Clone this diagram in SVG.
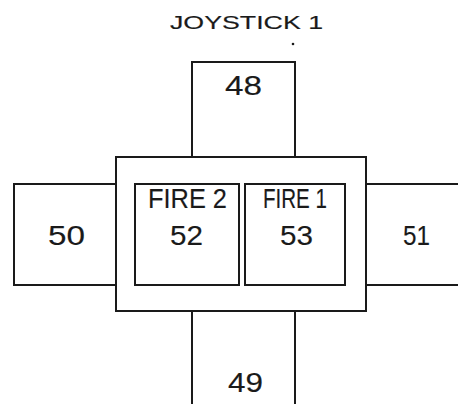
<svg xmlns="http://www.w3.org/2000/svg" width="458" height="404" viewBox="0 0 458 404">
<style>
.b{fill:none;stroke:#1a1a1a;stroke-width:2}
.t{font-family:"Liberation Sans",Arial,sans-serif;fill:#1a1a1a;text-anchor:middle;stroke:#1a1a1a;stroke-width:0.15}
.n{font-size:27px}
</style>
<rect width="458" height="404" fill="#fff"/>
<g id="title">
<text class="t" x="246.5" y="28.5" font-size="19" textLength="153" lengthAdjust="spacingAndGlyphs">JOYSTICK 1</text>
<circle cx="293" cy="44" r="1.3" fill="#1a1a1a"/>
</g>
<g id="n48">
<path class="b" d="M192,157 V62 H295 V157"/>
<text class="t n" x="243.5" y="95" textLength="37" lengthAdjust="spacingAndGlyphs">48</text>
</g>
<g id="n50">
<path class="b" d="M116,184 H14 V285 H116"/>
<text class="t n" x="66.5" y="245" textLength="37" lengthAdjust="spacingAndGlyphs">50</text>
</g>
<g id="n51">
<path class="b" d="M366,184 H460 M366,285 H460"/>
<text class="t n" x="416.5" y="245" textLength="27" lengthAdjust="spacingAndGlyphs">51</text>
</g>
<g id="n49">
<path class="b" d="M192,311 V406 M295,311 V406"/>
<text class="t n" x="245.5" y="392" textLength="35" lengthAdjust="spacingAndGlyphs">49</text>
</g>
<g id="center">
<rect class="b" x="116" y="157" width="250" height="154"/>
</g>
<g id="n52">
<rect class="b" x="135" y="184" width="104" height="101"/>
<text class="t n" x="187.5" y="208" textLength="79" lengthAdjust="spacingAndGlyphs">FIRE 2</text>
<text class="t n" x="186.5" y="245" textLength="33" lengthAdjust="spacingAndGlyphs">52</text>
</g>
<g id="n53">
<rect class="b" x="245" y="184" width="100" height="101"/>
<text class="t n" x="295" y="208" textLength="64" lengthAdjust="spacingAndGlyphs">FIRE 1</text>
<text class="t n" x="296.5" y="245" textLength="33" lengthAdjust="spacingAndGlyphs">53</text>
</g>
<g id="connectors"></g>
</svg>
